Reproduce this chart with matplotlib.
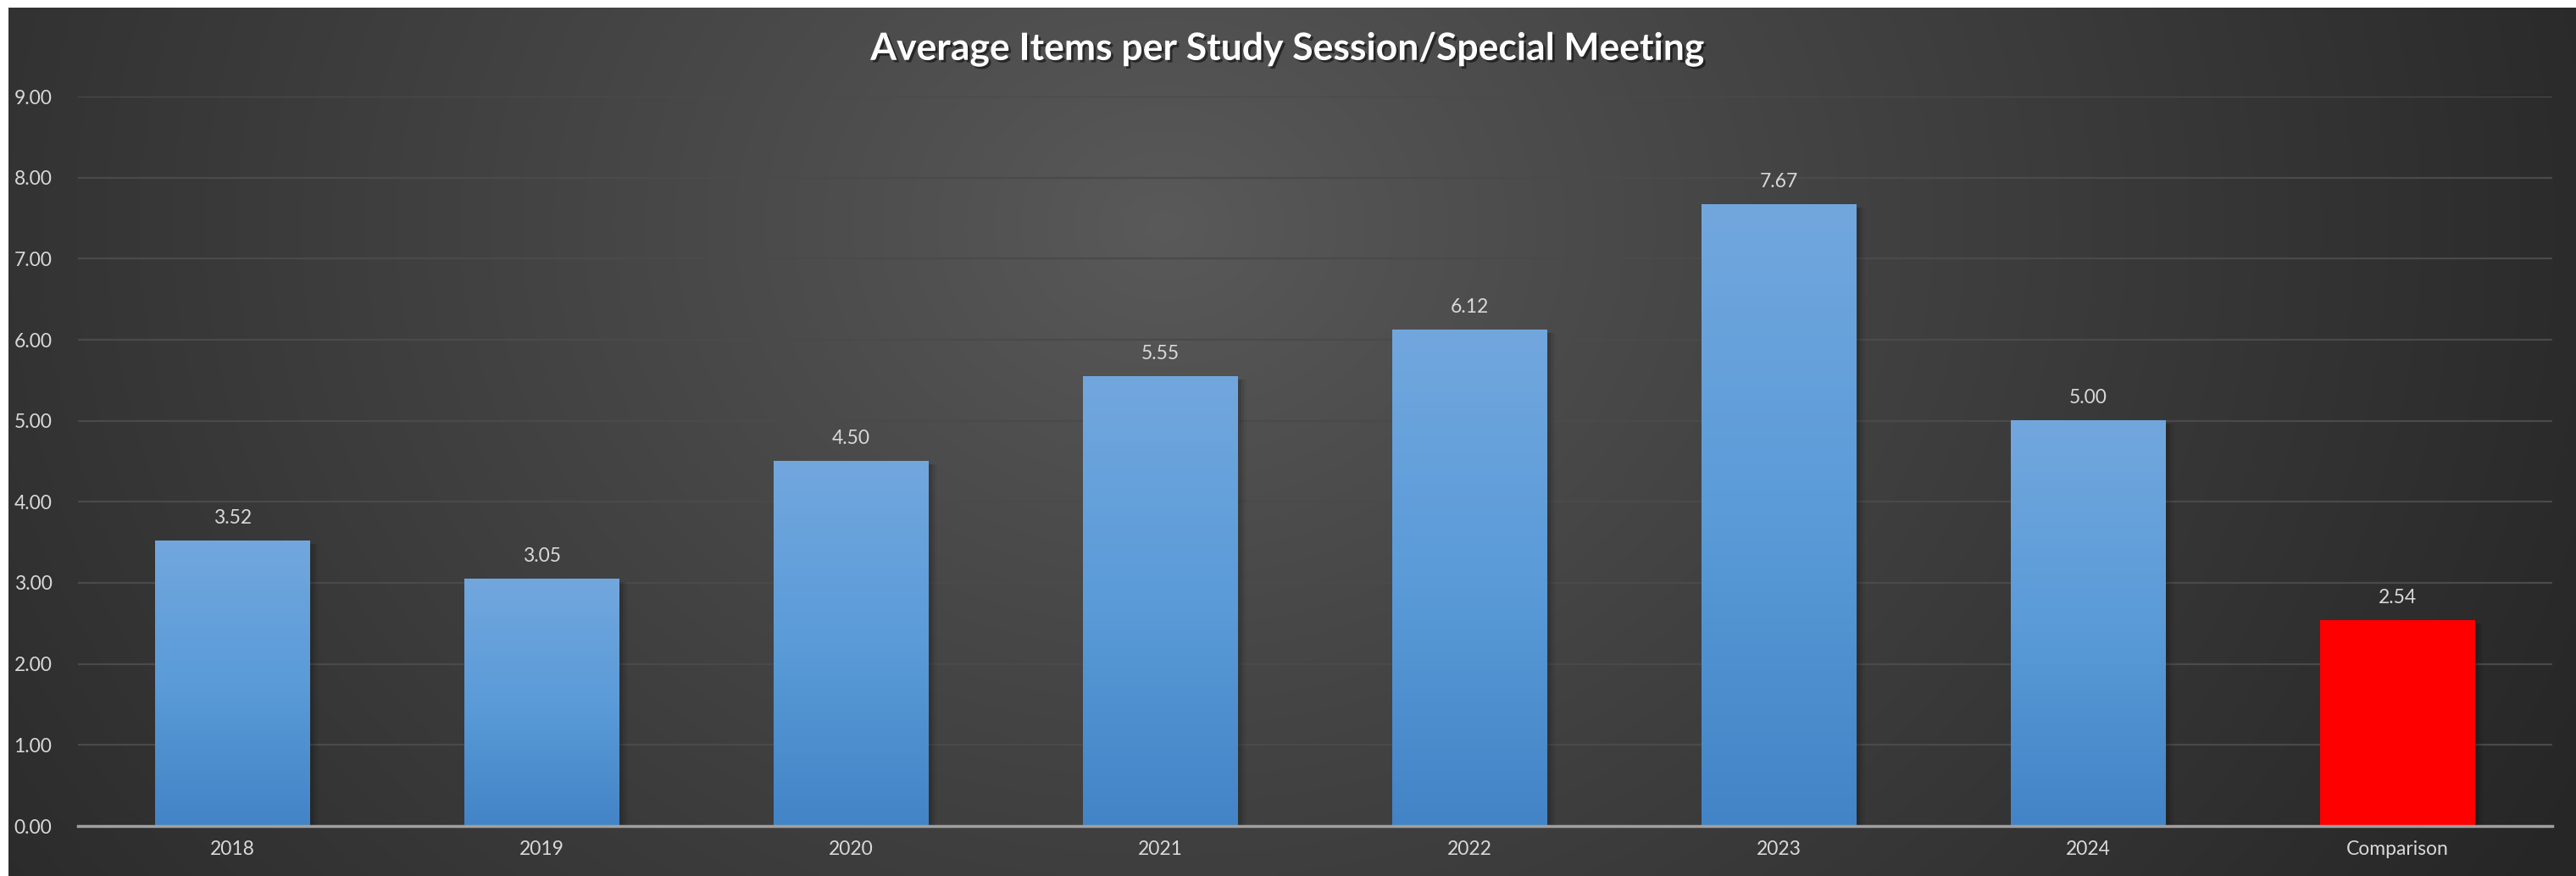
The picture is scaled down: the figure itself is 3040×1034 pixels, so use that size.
import numpy as np
import matplotlib
matplotlib.use("Agg")
import matplotlib.pyplot as plt
from matplotlib.colors import LinearSegmentedColormap
import matplotlib.patheffects as pe

categories = ["2018", "2019", "2020", "2021", "2022", "2023", "2024", "Comparison"]
values = [3.52, 3.05, 4.50, 5.55, 6.12, 7.67, 5.00, 2.54]
highlight = [False, False, False, False, False, False, False, True]
yticks = [0, 1, 2, 3, 4, 5, 6, 7, 8, 9]
title = "Average Items per Study Session/Special Meeting"

plt.rcParams['font.family'] = ['Lato', 'DejaVu Sans']

W, H = 3040, 1034
fig = plt.figure(figsize=(W / 100, H / 100), dpi=100)
fig.patch.set_facecolor("white")

# background panel with radial gradient
bg = fig.add_axes([10 / W, 0, 1 - 10 / W, 1 - 9 / H])
bg.set_axis_off()
ny, nx = 300, 900
yy, xx = np.mgrid[0:ny, 0:nx]
cx, cy = nx * 0.45, ny * 0.25
r = np.sqrt(((xx - cx) / (nx * 0.62)) ** 2 + ((yy - cy) / (ny * 1.5)) ** 2)
r = np.clip(r, 0, 1) ** 0.9
c0 = np.array([0x5a, 0x5a, 0x5a]) / 255
c1 = np.array([0x26, 0x26, 0x26]) / 255
img = c0[None, None, :] * (1 - r[..., None]) + c1[None, None, :] * r[..., None]
bg.imshow(img, aspect="auto", extent=[0, 1, 0, 1], origin="upper", interpolation="bilinear")
bg.set_xlim(0, 1)
bg.set_ylim(0, 1)

ax = fig.add_axes([92 / W, 1 - 975 / H, (3012 - 92) / W, (975 - 114) / H])
ax.patch.set_alpha(0)
x = np.arange(len(categories))
bw = 0.5
ax.set_xlim(-0.5, len(categories) - 0.5)
ax.set_ylim(0, 9)

ax.set_yticks(yticks)
ax.set_yticklabels([f"{v:.2f}" for v in yticks])
ax.yaxis.grid(True, color="#4a4a4a", linewidth=1.6, zorder=0)
ax.set_axisbelow(True)
for s in ["top", "right", "left"]:
    ax.spines[s].set_visible(False)
ax.spines["bottom"].set_color("#a0a0a0")
ax.spines["bottom"].set_linewidth(2.5)
ax.spines["bottom"].set_zorder(5)
ax.tick_params(axis="both", length=0, colors="#d9d9d9", labelsize=16.5)
ax.tick_params(axis="y", pad=22)
ax.tick_params(axis="x", pad=12)
ax.set_xticks(x)
ax.set_xticklabels(categories)

blue_cmap = LinearSegmentedColormap.from_list("b", ["#4284c6", "#5a9bd8", "#72a7de"])
grad = np.linspace(0, 1, 256).reshape(-1, 1)

bars = ax.bar(x, values, width=bw, color="none", zorder=3)
for b, v, hl in zip(bars, values, highlight):
    x0 = b.get_x()
    # soft shadow
    for k, a in [(0.012, 0.10), (0.022, 0.07), (0.032, 0.04)]:
        ax.add_patch(plt.Rectangle((x0 + k * 0.3, -0.02), bw + k * 0.6, v - 0.02,
                                   color="black", alpha=a, zorder=2, linewidth=0))
    if hl:
        ax.add_patch(plt.Rectangle((x0, 0), bw, v, color="#ff0000", zorder=3, linewidth=0))
    else:
        ax.imshow(grad, cmap=blue_cmap, aspect="auto", extent=[x0, x0 + bw, 0, v],
                  origin="lower", zorder=3, interpolation="bilinear")
    ax.text(b.get_x() + bw / 2, v + 0.17, f"{v:.2f}", ha="center", va="bottom",
            color="#d9d9d9", fontsize=16.5, zorder=6)
ax.set_xlim(-0.5, len(categories) - 0.5)
ax.set_ylim(0, 9)

fig.text(0.5, 1 - 58 / H, title, ha="center", va="center", color="white",
         fontsize=32, fontweight="bold",
         path_effects=[pe.withSimplePatchShadow(offset=(2, -2), shadow_rgbFace="black", alpha=0.5)])

fig.savefig("out.png", dpi=100, facecolor=fig.get_facecolor())
